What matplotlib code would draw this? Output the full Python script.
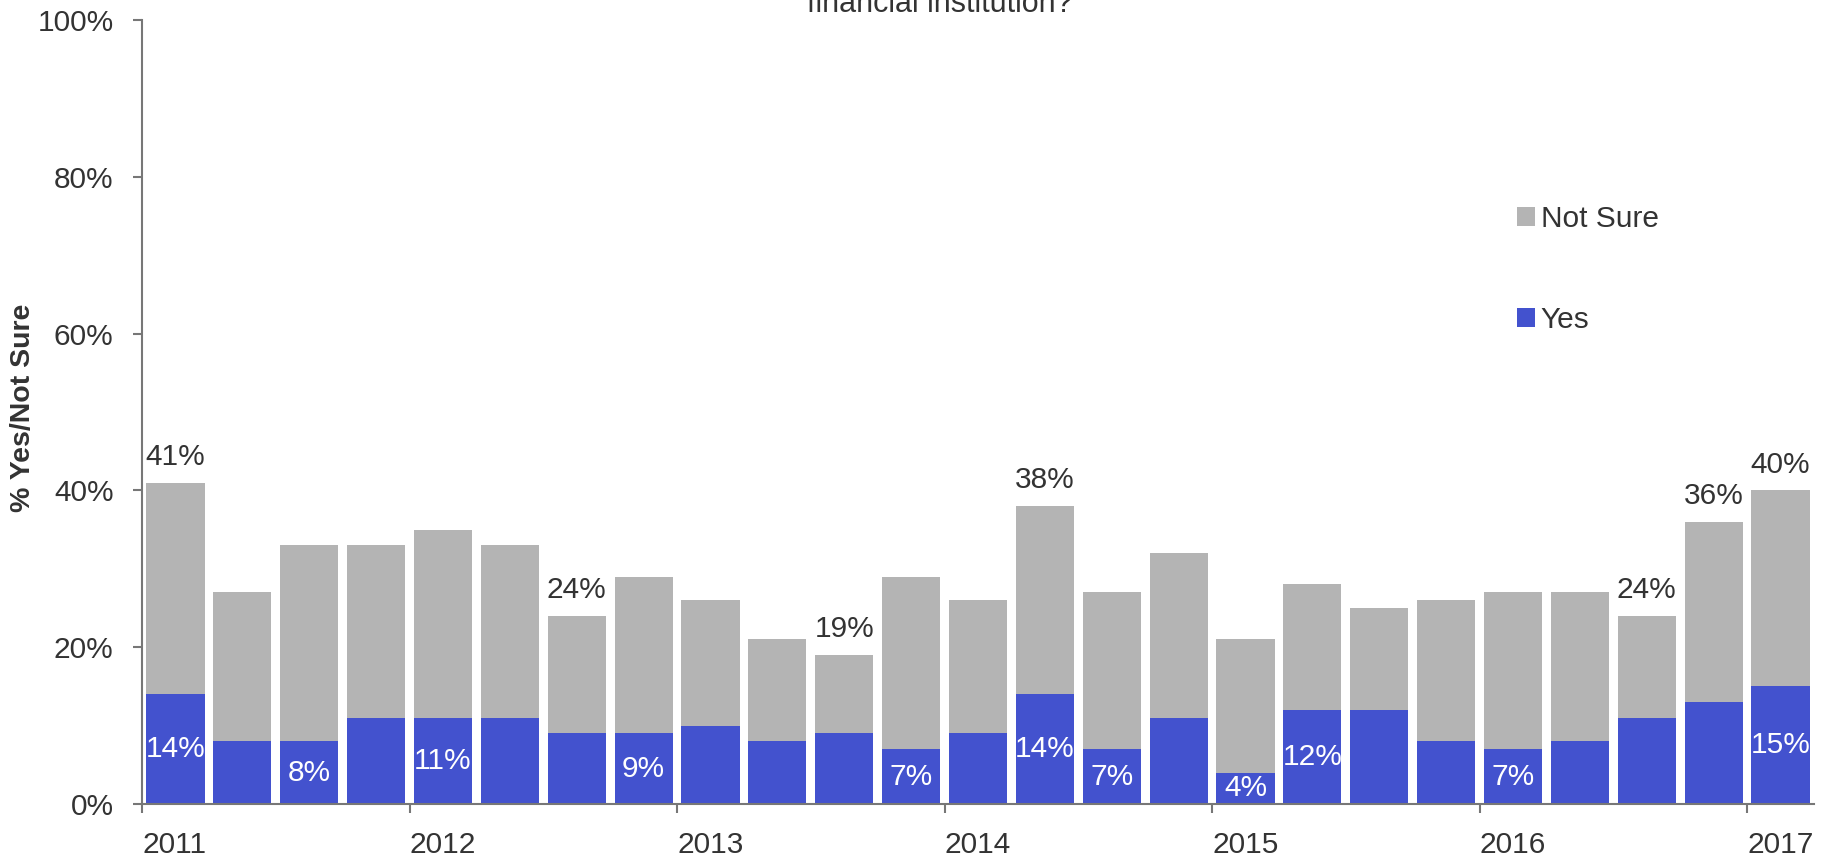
import matplotlib
matplotlib.use("Agg")
import matplotlib.pyplot as plt
from matplotlib.patches import Patch
import numpy as np

plt.rcParams["font.family"] = ["Liberation Sans", "DejaVu Sans"]

# Quarterly survey results, Q1 2011 through Q1 2017
quarters = [f"{y} Q{q}" for y in range(2011, 2018) for q in range(1, 5)][:25]
total_pct = [41, 27, 33, 33, 35, 33, 24, 29, 26, 21, 19, 29, 26, 38, 27, 32,
             21, 28, 25, 26, 27, 27, 24, 36, 40]
yes_pct = [14, 8, 8, 11, 11, 11, 9, 9, 10, 8, 9, 7, 9, 14, 7, 11,
           4, 12, 12, 8, 7, 8, 11, 13, 15]
not_sure_pct = [t - y for t, y in zip(total_pct, yes_pct)]

# Bars whose totals / "Yes" shares are annotated
total_labelled = [0, 6, 10, 13, 22, 23, 24]
yes_labelled = [0, 2, 4, 7, 11, 13, 14, 16, 17, 20, 24]

year_labels = ["2011", "2012", "2013", "2014", "2015", "2016", "2017"]
y_ticks = [0, 20, 40, 60, 80, 100]

GRAY = "#b4b4b4"
BLUE = "#4352ce"
TEXT = "#333333"
AXIS = "#777777"
FS = 21.5

W, H = 1829, 860
fig = plt.figure(figsize=(W / 100, H / 100), dpi=100)
ax = fig.add_axes([142 / W, 1 - 804 / H, (1814 - 142) / W, (804 - 20) / H])

x = np.arange(len(quarters)) + 0.5
ax.bar(x, yes_pct, width=0.87, color=BLUE, zorder=2)
ax.bar(x, not_sure_pct, bottom=yes_pct, width=0.87, color=GRAY, zorder=2)

for i in total_labelled:
    ax.annotate(f"{total_pct[i]}%", (x[i], total_pct[i]), xytext=(0, 18.5),
                textcoords="offset points", ha="center", va="center",
                fontsize=FS, color=TEXT)
for i in yes_labelled:
    ax.text(x[i], yes_pct[i] / 2, f"{yes_pct[i]}%", ha="center", va="center",
            fontsize=FS, color="white", zorder=3)

ax.set_xlim(0, len(quarters))
ax.set_ylim(0, 100)
ax.set_yticks(y_ticks)
ax.set_yticklabels([f"{v}%" for v in y_ticks])
ax.set_xticks(np.arange(len(year_labels)) * 4)
ax.set_xticklabels(year_labels, ha="left")

for side in ("top", "right"):
    ax.spines[side].set_visible(False)
for side in ("left", "bottom"):
    ax.spines[side].set_color(AXIS)
    ax.spines[side].set_linewidth(1.5)
ax.tick_params(axis="both", colors=AXIS, labelcolor=TEXT, labelsize=FS,
               length=6.5, width=1.5, pad=14)
ax.tick_params(axis="x", pad=13)

fig.text(23 / W, 1 - 408 / H, "% Yes/Not Sure", rotation=90, ha="center",
         va="center", fontsize=20.5, fontweight="bold", color=TEXT)

fig.text(940 / W, 1 - 12 / H, "financial institution?", ha="center",
         va="baseline", fontsize=22, color=TEXT)

handles = [Patch(facecolor=GRAY, label="Not Sure"),
           Patch(facecolor=BLUE, label="Yes")]
fig.legend(handles=handles, loc="upper left",
           bbox_to_anchor=(1517 / W, 1 - 205 / H), frameon=False,
           fontsize=FS, labelcolor=TEXT, handlelength=0.6, handleheight=0.6,
           handletextpad=0.2, labelspacing=2.45, borderpad=0,
           borderaxespad=0)

fig.savefig("out.png", dpi=100)
